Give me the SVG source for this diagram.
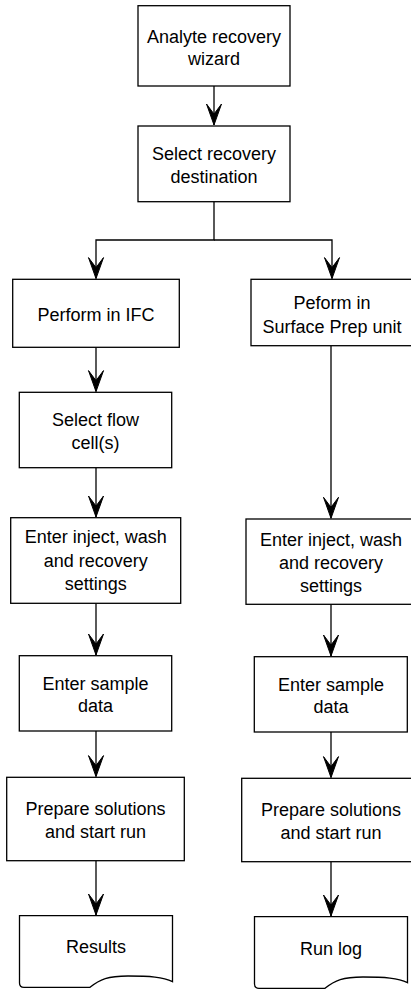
<svg xmlns="http://www.w3.org/2000/svg" width="411" height="989" viewBox="0 0 411 989">
<style>
.box{fill:#fff;stroke:#000;stroke-width:1.3}
.t{font-family:"Liberation Sans",Arial,sans-serif;font-size:18px;fill:#000;text-anchor:middle}
.c{fill:none;stroke:#000;stroke-width:1.3}
</style>
<defs>
<marker id="arr" markerUnits="userSpaceOnUse" viewBox="-23 -9 25 18" refX="0" refY="0" markerWidth="25" markerHeight="18" orient="auto">
<path d="M0,0 L-21,-7.5 L-11,0 L-21,7.5 Z" fill="#000" stroke="#000" stroke-width="1" stroke-linejoin="miter"/>
</marker>
</defs>
<g id="connectors">
<path class="c" d="M214,86 V125" marker-end="url(#arr)"/>
<path class="c" d="M214,201.7 V240 H96 V278.6" marker-end="url(#arr)"/>
<path class="c" d="M214,240 H332 V278.6" marker-end="url(#arr)"/>
<path class="c" d="M96,347.3 V391.6" marker-end="url(#arr)"/>
<path class="c" d="M96,467.7 V517" marker-end="url(#arr)"/>
<path class="c" d="M96,603.3 V655" marker-end="url(#arr)"/>
<path class="c" d="M96,731 V776.6" marker-end="url(#arr)"/>
<path class="c" d="M96,860.7 V915" marker-end="url(#arr)"/>
<path class="c" d="M331,345.7 V518.3" marker-end="url(#arr)"/>
<path class="c" d="M331,604.3 V656" marker-end="url(#arr)"/>
<path class="c" d="M331,732 V777.6" marker-end="url(#arr)"/>
<path class="c" d="M331,861.7 V916" marker-end="url(#arr)"/>
</g>
<g id="n1">
<rect class="box" x="138" y="5.7" width="152" height="80.3"/>
<text class="t" x="214" y="42.5">Analyte recovery</text>
<text class="t" x="214" y="64.8">wizard</text>
</g>
<g id="n2">
<rect class="box" x="138" y="126" width="152" height="75.7"/>
<text class="t" x="214" y="160">Select recovery</text>
<text class="t" x="214" y="182.6">destination</text>
</g>
<g id="n3">
<rect class="box" x="12.7" y="279.3" width="166.6" height="68"/>
<text class="t" x="96" y="320.5">Perform in IFC</text>
</g>
<g id="n4">
<rect class="box" x="19.3" y="392.3" width="152.4" height="75.4"/>
<text class="t" x="95.5" y="426">Select flow</text>
<text class="t" x="95.5" y="448.7">cell(s)</text>
</g>
<g id="n5">
<rect class="box" x="10.7" y="517.7" width="170" height="85.6"/>
<text class="t" x="95.7" y="543.3">Enter inject, wash</text>
<text class="t" x="95.7" y="566.7">and recovery</text>
<text class="t" x="95.7" y="590">settings</text>
</g>
<g id="n6">
<rect class="box" x="19.3" y="655.7" width="152.4" height="75.3"/>
<text class="t" x="95.5" y="690">Enter sample</text>
<text class="t" x="95.5" y="712.3">data</text>
</g>
<g id="n7">
<rect class="box" x="6.7" y="777.3" width="177.6" height="83.4"/>
<text class="t" x="95.5" y="815">Prepare solutions</text>
<text class="t" x="95.5" y="837.7">and start run</text>
</g>
<g id="n8">
<path class="box" d="M19.5,915.7 H172.5 V981.7 C163,977 150,976 128,976 C108,976 100,979 90,987.3 H24 Q19.5,987.3 19.5,983 Z"/>
<text class="t" x="96" y="953.3">Results</text>
</g>
<g id="n9">
<rect class="box" x="251" y="279.3" width="162" height="66.4"/>
<text class="t" x="332" y="309.3">Peform in</text>
<text class="t" x="332" y="332.5">Surface Prep unit</text>
</g>
<g id="n10">
<rect class="box" x="246" y="519" width="170" height="85.3"/>
<text class="t" x="331" y="545.5">Enter inject, wash</text>
<text class="t" x="331" y="568.8">and recovery</text>
<text class="t" x="331" y="592">settings</text>
</g>
<g id="n11">
<rect class="box" x="254.3" y="656.7" width="153" height="75.3"/>
<text class="t" x="331" y="690.7">Enter sample</text>
<text class="t" x="331" y="712.9">data</text>
</g>
<g id="n12">
<rect class="box" x="241.7" y="778.3" width="178" height="83.4"/>
<text class="t" x="331" y="816">Prepare solutions</text>
<text class="t" x="331" y="838.8">and start run</text>
</g>
<g id="n13">
<path class="box" d="M254.5,916.7 H407.5 V982.7 C398,978 385,977 363,977 C343,977 335,980 325,988.3 H259 Q254.5,988.3 254.5,984 Z"/>
<text class="t" x="331" y="954.5">Run log</text>
</g>
</svg>
